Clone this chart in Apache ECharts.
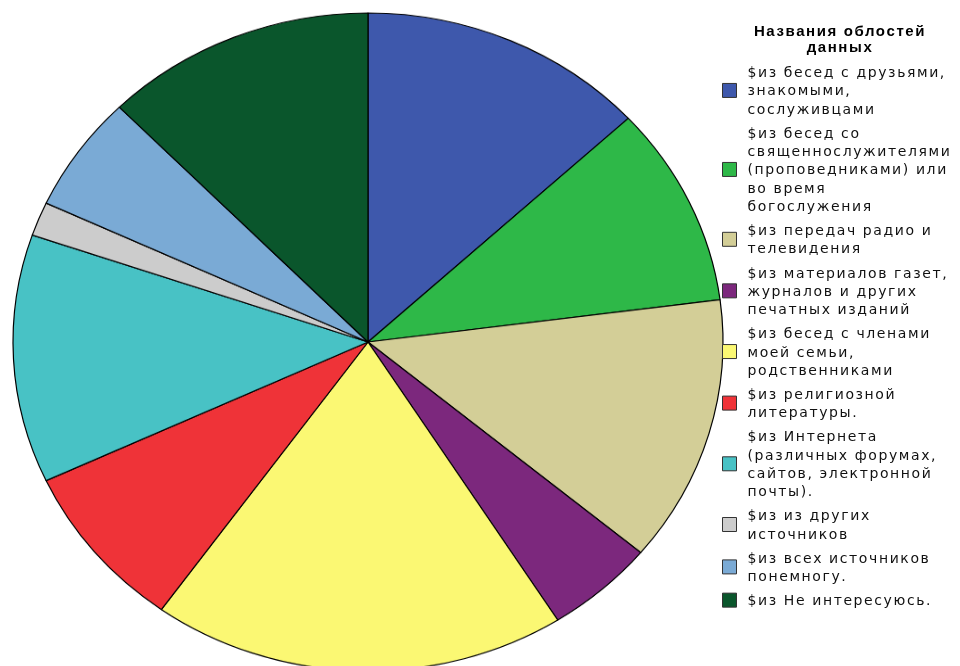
<!DOCTYPE html>
<html><head><meta charset="utf-8">
<script src="https://cdn.jsdelivr.net/npm/echarts@6/dist/echarts.min.js"></script>
<style>
html,body{margin:0;padding:0;background:#fff;overflow:hidden;}
#wrap{position:relative;width:960px;height:666px;overflow:hidden;background:#fff;}
#pie{position:absolute;left:0;top:0;width:960px;height:719px;transform:scaleY(0.9268);transform-origin:0 0;}
#leg{position:absolute;left:0;top:0;width:960px;height:666px;}
#leg text{letter-spacing:1.6px;}
</style></head>
<body><div id="wrap"><div id="pie"></div><div id="leg"></div></div>
<script>
const categories = [
  '$из бесед с друзьями, знакомыми, сослуживцами',
  '$из бесед со священнослужителями (проповедниками) или во время богослужения',
  '$из передач радио и телевидения',
  '$из материалов газет, журналов и других печатных изданий',
  '$из бесед с членами моей семьи, родственниками',
  '$из религиозной литературы.',
  '$из Интернета (различных форумах, сайтов, электронной почты).',
  '$из из других источников',
  '$из всех источников понемногу.',
  '$из Не интересуюсь.'
];
const legendLabels = [
  '$из бесед с друзьями,\nзнакомыми,\nсослуживцами',
  '$из бесед со\nсвященнослужителями\n(проповедниками) или\nво время\nбогослужения',
  '$из передач радио и\nтелевидения',
  '$из материалов газет,\nжурналов и других\nпечатных изданий',
  '$из бесед с членами\nмоей семьи,\nродственниками',
  '$из религиозной\nлитературы.',
  '$из Интернета\n(различных форумах,\nсайтов, электронной\nпочты).',
  '$из из других\nисточников',
  '$из всех источников\nпонемногу.',
  '$из Не интересуюсь.'
];
const values = [13.1, 9.85, 13.1, 4.97, 18.86, 8.19, 12.19, 1.67, 5.71, 12.35];
const colors = ['#3E58AC', '#2EB848', '#D3CE97', '#7C287D', '#FBF873', '#EF3338', '#48C2C5', '#CCCCCC', '#7AAAD5', '#0A562C'];
const legendTitle = 'Названия облостей\nданных';

const pieData = categories.map((c, i) => ({ name: c, value: values[i] }));

const pieChart = echarts.init(document.getElementById('pie'), null, { renderer: 'canvas' });
pieChart.setOption({
  animation: false,
  color: colors,
  series: [{
    type: 'pie',
    center: [368, 369],
    radius: [0, 355],
    startAngle: 90,
    clockwise: true,
    label: { show: false },
    labelLine: { show: false },
    itemStyle: { borderColor: '#000', borderWidth: 1.2 },
    emphasis: { scale: false },
    data: pieData
  }]
});

const legChart = echarts.init(document.getElementById('leg'), null, { renderer: 'svg' });
legChart.setOption({
  animation: false,
  color: colors,
  title: {
    text: legendTitle,
    left: 840,
    top: 22,
    textAlign: 'center',
    padding: 0,
    textStyle: { fontFamily: 'Liberation Sans', fontWeight: 'bold', fontSize: 15, lineHeight: 16, color: '#000' }
  },
  legend: {
    orient: 'vertical',
    left: 722,
    top: 63,
    padding: 0,
    itemWidth: 14,
    itemHeight: 14,
    itemGap: 5.8,
    icon: 'rect',
    selectedMode: false,
    itemStyle: { borderColor: '#333', borderWidth: 1 },
    formatter: function (name) { return legendLabels[categories.indexOf(name)]; },
    textStyle: { fontFamily: 'DejaVu Sans', fontSize: 14, lineHeight: 18.3, color: '#111', padding: [0, 0, 0, 6] },
    data: categories
  },
  series: [{
    type: 'pie',
    center: [-100, -100],
    radius: [0, 0],
    silent: true,
    label: { show: false },
    labelLine: { show: false },
    data: pieData
  }]
});
</script>
</body></html>
